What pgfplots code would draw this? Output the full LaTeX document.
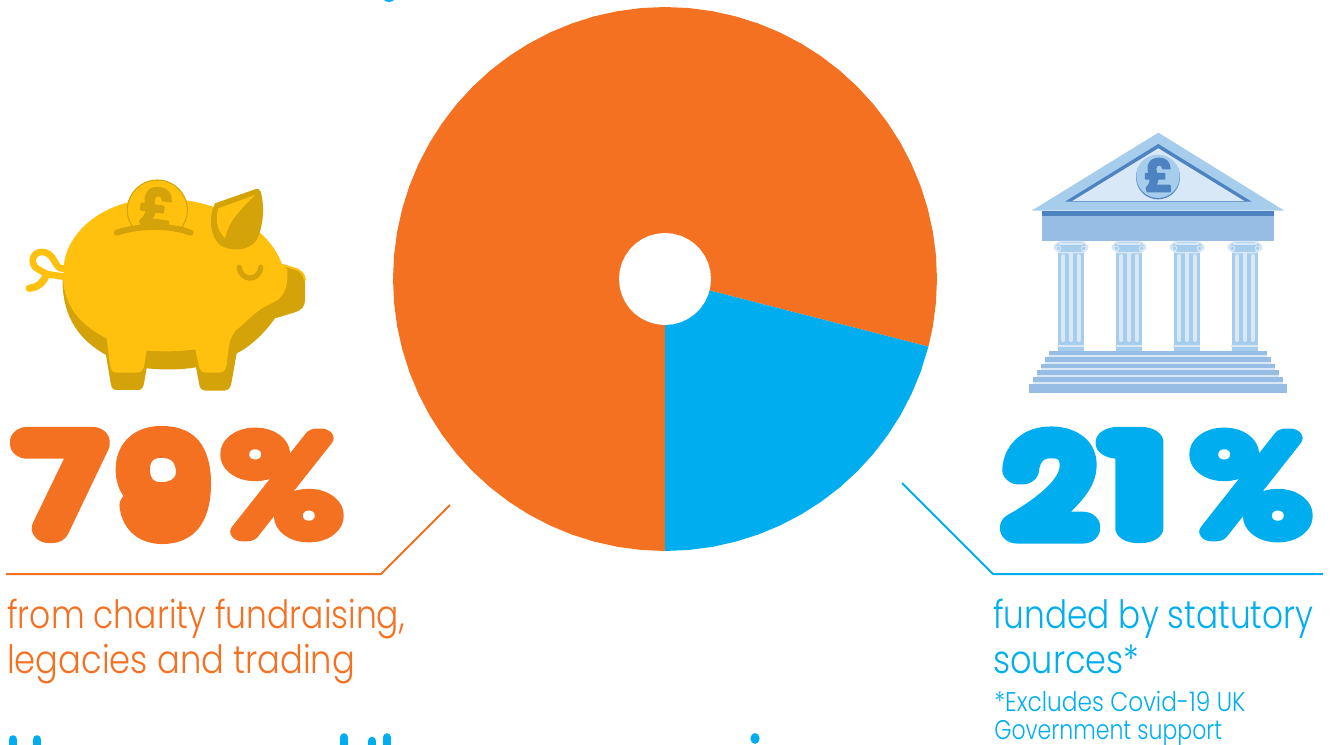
\documentclass[border=0pt]{standalone}
\usepackage{pgfplots}
\pgfplotsset{compat=1.18}
\usepackage{fontspec}
\setmainfont{Poppins Light}
\newfontfamily\heavy[FakeBold=24]{Poppins Thin}
\newfontfamily\heavypct[FakeBold=14.5]{Poppins Thin}
\newfontfamily\coin[FakeBold=4]{Poppins Bold}
\definecolor{fundorange}{HTML}{F47122}
\definecolor{statblue}{HTML}{00AEEF}
\definecolor{piggold}{HTML}{FFC10E}
\definecolor{pigdark}{HTML}{D4A309}
\definecolor{bankpale}{HTML}{D8E8F6}
\definecolor{banklight}{HTML}{A6CDEC}
\definecolor{bankmid}{HTML}{98BDE4}
\definecolor{bankdark}{HTML}{4E83C1}
% sizes given in reference pixels: 1 px = 0.75 pt
\newcommand{\pxfont}[1]{\fontsize{\dimexpr#1pt*3/4\relax}{\dimexpr#1pt*3/4\relax}\selectfont}
% one caption line, condensed horizontally
\newcommand{\captionline}[5]{\node[anchor=base west,inner sep=0,text=#1] at (#2) {\scalebox{#3}[1]{\pxfont{#4}#5}};}
% one headline glyph
\newcommand{\glyph}[6]{\node[anchor=center,inner sep=0,text=#1] at (#2) {\scalebox{#3}[#4]{#5\pxfont{123}#6}};}
\begin{document}
\begin{tikzpicture}[line join=round]
\path[use as bounding box,clip] (0,0) rectangle (1002pt,-558.75pt);

% funding split: 21% statutory, 79% charity income, radius 272
\begin{axis}[at={(498.75pt,-209.25pt)},anchor=center,scale only axis,width=408pt,height=408pt,
  xmin=-272,xmax=272,ymin=-272,ymax=272,hide axis,clip=false]
\addplot[draw=none,fill=fundorange,data cs=polar] coordinates {
 (0,0) (-14.4,272) (-10,272) (-5,272) (0,272) (5,272) (10,272) (15,272) (20,272) (25,272) (30,272)
 (35,272) (40,272) (45,272) (50,272) (55,272) (60,272) (65,272) (70,272) (75,272) (80,272)
 (85,272) (90,272) (95,272) (100,272) (105,272) (110,272) (115,272) (120,272) (125,272) (130,272)
 (135,272) (140,272) (145,272) (150,272) (155,272) (160,272) (165,272) (170,272) (175,272) (180,272)
 (185,272) (190,272) (195,272) (200,272) (205,272) (210,272) (215,272) (220,272) (225,272) (230,272)
 (235,272) (240,272) (245,272) (250,272) (255,272) (260,272) (265,272) (270,272)} -- cycle;
\addplot[draw=none,fill=statblue,data cs=polar] coordinates {
 (0,0) (270,272) (275,272) (280,272) (285,272) (290,272) (295,272) (300,272) (305,272) (310,272)
 (315,272) (320,272) (325,272) (330,272) (335,272) (340,272) (345.6,272)} -- cycle;
\addplot[draw=none,fill=white,data cs=polar] coordinates {
 (0,46) (10,46) (20,46) (30,46) (40,46) (50,46) (60,46) (70,46) (80,46) (90,46) (100,46) (110,46)
 (120,46) (130,46) (140,46) (150,46) (160,46) (170,46) (180,46) (190,46) (200,46) (210,46) (220,46)
 (230,46) (240,46) (250,46) (260,46) (270,46) (280,46) (290,46) (300,46) (310,46) (320,46) (330,46)
 (340,46) (350,46)} -- cycle;
\end{axis}

\begin{scope}[x=.75pt,y=-.75pt]
% leader lines
\draw[fundorange,line width=1.5pt] (6,574) -- (381,574) -- (450,505);
\draw[statblue,line width=1.5pt] (902,483) -- (993,574) -- (1323,574);

% headline figures
\glyph{fundorange}{62,485}{1.17}{1}{\heavy}{7}
\glyph{fundorange}{164,485}{1.07}{1}{\heavy}{9}
\glyph{fundorange}{282,485}{1.42}{1.08}{\heavypct}{\%}
\glyph{statblue}{1050,485}{1.15}{1}{\heavy}{2}
\glyph{statblue}{1136,485}{1.5}{1}{\heavy}{1}
\glyph{statblue}{1251,485}{1.42}{1.08}{\heavypct}{\%}

% captions
\captionline{fundorange}{7,628}{.845}{39}{from charity fundraising,}
\captionline{fundorange}{7,673}{.865}{39}{legacies and trading}
\captionline{statblue}{993,628}{.84}{39}{funded by statutory}
\captionline{statblue}{993,673}{.86}{39}{sources*}
\captionline{statblue}{994,711}{.862}{27}{*Excludes Covid-19 UK}
\captionline{statblue}{994,739}{.816}{27}{Government support}

% tops of the neighbouring headings, cropped by the page edges
\foreach \sx/\sy in {13/739.5,37/739.5,344/737.5,372/741,387/737.5}
  \draw[statblue,line width=6.4pt,line cap=round] (\sx,\sy) -- (\sx,752);
\fill[statblue] (755,738.5) ellipse[x radius=4.6,y radius=5.4];
\fill[statblue] (389,-1) ellipse[x radius=5.5,y radius=3];
\end{scope}

% piggy bank, drawn on a 1/3 px grid
\begin{scope}[shift={(0pt,-112.5pt)},x=.25pt,y=-.25pt]
\fill[pigdark] (188,380) .. controls (185,480) and (220,560) .. (318,615) -- (332,700)
  .. controls (335,715) and (340,720) .. (350,720) -- (415,720) .. controls (425,720) and (430,712) .. (432,700)
  -- (440,655) .. controls (490,660) and (540,660) .. (588,652) -- (598,705) .. controls (600,715) and (606,722) .. (618,722)
  -- (672,722) .. controls (685,722) and (692,712) .. (694,700) -- (710,610) .. controls (760,585) and (800,540) .. (825,505)
  -- (885,487) .. controls (905,480) and (915,470) .. (915,450) -- (915,395) .. controls (915,375) and (905,365) .. (885,358)
  -- (845,343) -- cycle;
\draw[piggold,line width=1.5pt] (848,345) -- (885,356) .. controls (903,362) and (913,372) .. (915,392);
% tail
\draw[piggold,line width=5pt,line cap=round]
  (192,356) .. controls (160,360) and (168,306) .. (125,306) .. controls (95,306) and (88,345) .. (115,358) -- (140,372) -- (190,380);
\draw[piggold,line width=5.5pt,line cap=round] (140,372) .. controls (130,400) and (110,413) .. (88,415);
% body
\fill[piggold] (190,360) .. controls (195,240) and (320,145) .. (480,145) .. controls (640,145) and (800,220) .. (845,340)
  -- (862,358) .. controls (865,420) and (850,445) .. (810,462) .. controls (770,480) and (745,510) .. (715,535)
  .. controls (695,550) and (690,570) .. (685,600) -- (680,645) .. controls (678,660) and (670,668) .. (655,668)
  -- (620,668) .. controls (605,668) and (598,660) .. (596,645) -- (586,598) .. controls (540,605) and (490,605) .. (440,602)
  -- (432,650) .. controls (428,662) and (422,668) .. (410,668) -- (350,668) .. controls (338,668) and (332,660) .. (330,645)
  -- (320,565) .. controls (250,530) and (200,480) .. (190,400) -- cycle;
% coin, sunk into the slot
\begin{scope}
\clip (340,250) .. controls (420,228) and (510,228) .. (590,250) -- (590,60) -- (340,60) -- cycle;
\draw[pigdark,fill=piggold,line width=.8pt] (472,180) circle[radius=90];
\node[rotate=-8,inner sep=0,text=pigdark] at (470,172) {\coin\pxfont{52}£};
\end{scope}
\draw[pigdark,line width=4.5pt,line cap=round] (350,248) .. controls (420,225) and (510,225) .. (572,248);
% ear
\fill[pigdark] (645,160) -- (765,118) .. controls (775,115) and (780,118) .. (782,125) .. controls (795,170) and (790,230) .. (770,270)
  .. controls (745,305) and (690,305) .. (660,285) .. controls (630,260) and (625,200) .. (645,160) -- cycle;
\fill[piggold] (655,175) -- (765,135) .. controls (720,180) and (685,215) .. (675,265) .. controls (650,240) and (645,205) .. (655,175) -- cycle;
% eye
\draw[pigdark,line width=4pt,line cap=round] (718,352) .. controls (722,395) and (778,395) .. (782,352);
\end{scope}

% bank building, drawn on a 1/3 px grid
\begin{scope}[shift={(757.5pt,-90pt)},x=.25pt,y=-.25pt]
\fill[banklight] (65,272) -- (445,38) -- (823,272) -- cycle;
\fill[bankdark] (165,245) -- (445,72) -- (725,245) -- cycle;
\fill[bankpale] (187,243) -- (445,85) -- (703,243) -- cycle;
\fill[bankdark] (444,172) circle[radius=66];
\fill[banklight] (444,169) circle[radius=65];
\node[inner sep=0,text=bankdark] at (446,165) {\coin\pxfont{44}£};
\fill[bankmid] (96,272) rectangle (792,363);
\fill[bankdark] (96,272) rectangle (792,288);
\foreach \c in {183,357,531,705} {
  \fill[banklight] (\c-39,398) rectangle (\c+39,692);
  \draw[bankpale,line width=1pt] (\c-42,678) -- (\c+39,678);
  \foreach \o/\t in {-23/408,0/392,23/408}
    \draw[bankpale,line width=3pt,line cap=round] (\c+\o,\t) -- (\c+\o,660);
  \draw[bankpale,fill=banklight,line width=1.2pt,rounded corners=5.5pt] (\c-50,365) rectangle (\c+50,398);
  \draw[bankpale,line width=1pt] (\c-35,372) -- (\c+35,372);
  \draw[bankpale,line width=.8pt] (\c-38,385) circle[radius=7];
  \draw[bankpale,line width=.8pt] (\c+38,385) circle[radius=7];
}
\foreach \l/\r/\t/\b in {117/771/693/705,105/783/711/726,93/795/732/744,81/807/750/765,69/819/771/786,57/831/792/819}
  \fill[bankmid] (\l,\t) rectangle (\r,\b);
\foreach \l/\r/\t/\b in {117/771/705/711,105/783/726/732,93/795/744/750,81/807/765/771,69/819/786/792}
  \fill[bankpale] (\l,\t) rectangle (\r,\b);
\end{scope}
\end{tikzpicture}
\end{document}
